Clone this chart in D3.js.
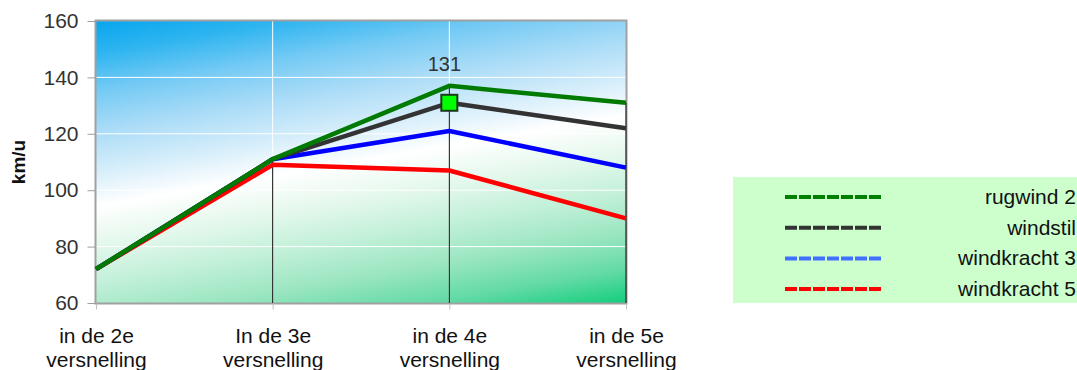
<!DOCTYPE html>
<html>
<head>
<meta charset="utf-8">
<script src="https://cdn.jsdelivr.net/npm/d3@7"></script>
<style>
  html, body { margin: 0; padding: 0; background: #ffffff; }
  svg { display: block; font-family: "Liberation Sans", Arial, sans-serif; }
</style>
</head>
<body>
<svg id="chart" width="1077" height="370"></svg>
<script>
// Topsnelheid per versnelling bij verschillende windomstandigheden
const categories = ["in de 2e\nversnelling", "In de 3e\nversnelling", "in de 4e\nversnelling", "in de 5e\nversnelling"];
const seriesNames = ["windkracht 5", "windkracht 3", "windstil", "rugwind 2"];
const rugwind2 = [72, 111, 137, 131];
const windstil = [72, 111, 131, 122];
const windkracht3 = [72, 111, 121, 108];
const windkracht5 = [72, 109, 107, 90];
const yTicks = [60, 80, 100, 120, 140, 160];
const highlight = { series: "windstil", index: 2, label: "131" };

const lineColors = { "rugwind 2": "#007a00", "windstil": "#333333", "windkracht 3": "#0000ff", "windkracht 5": "#ff0000" };
const legendColors = { "rugwind 2": "#008000", "windstil": "#333333", "windkracht 3": "#4070ff", "windkracht 5": "#ff0000" };
const legendOrder = ["rugwind 2", "windstil", "windkracht 3", "windkracht 5"];
const valuesBy = { "rugwind 2": rugwind2, "windstil": windstil, "windkracht 3": windkracht3, "windkracht 5": windkracht5 };

const FONT = "Liberation Sans, Arial, sans-serif";
const svg = d3.select("#chart");
const plot = { left: 96, right: 626, top: 21, bottom: 303 };
const pw = plot.right - plot.left, ph = plot.bottom - plot.top;

const x = d3.scalePoint().domain(d3.range(categories.length)).range([plot.left, plot.right]).padding(0);
const y = d3.scaleLinear().domain([60, 160]).range([plot.bottom, plot.top]);

// Sky-to-grass background: a tilted linear gradient across the plot area
const defs = svg.append("defs");
const lg = defs.append("linearGradient").attr("id", "bg")
  .attr("gradientUnits", "userSpaceOnUse")
  .attr("x1", plot.left + 233).attr("y1", plot.top - 47)
  .attr("x2", plot.left + 297).attr("y2", plot.top + 327);
[[0, "#00a2ee"], [0.1, "#2cb4f0"], [0.2, "#74caf4"], [0.3, "#a8dbf7"], [0.4, "#d2ecfa"],
 [0.5, "#ffffff"], [0.6, "#e4f8ec"], [0.7, "#c2f0d8"], [0.8, "#9ce6c2"], [0.9, "#62daa6"], [1, "#06cc76"]]
  .forEach(([o, c]) => lg.append("stop").attr("offset", o).attr("stop-color", c));

svg.append("rect").attr("x", plot.left).attr("y", plot.top).attr("width", pw).attr("height", ph)
  .attr("fill", "url(#bg)");

// Gridlines
svg.append("g").selectAll("line").data(yTicks.slice(1, -1)).join("line")
  .attr("x1", plot.left).attr("x2", plot.right)
  .attr("y1", d => y(d)).attr("y2", d => y(d))
  .attr("stroke", "#ffffff").attr("stroke-width", 1);
svg.append("g").selectAll("line").data(d3.range(1, categories.length - 1)).join("line")
  .attr("x1", d => x(d)).attr("x2", d => x(d))
  .attr("y1", plot.top).attr("y2", plot.bottom)
  .attr("stroke", "#ffffff").attr("stroke-width", 1);

// Frame
svg.append("rect").attr("x", plot.left - 0.5).attr("y", plot.top - 0.5)
  .attr("width", pw + 1).attr("height", ph + 1)
  .attr("fill", "none").attr("stroke", "#a0a0a0").attr("stroke-width", 2);

// Drop lines from the highest value at each category
const maxAt = d3.range(categories.length).map(i => d3.max(legendOrder, s => valuesBy[s][i]));
svg.append("g").selectAll("line").data(d3.range(1, categories.length)).join("line")
  .attr("x1", d => x(d)).attr("x2", d => x(d))
  .attr("y1", d => y(maxAt[d])).attr("y2", plot.bottom)
  .attr("stroke", "#111111").attr("stroke-width", 1);

// Y axis
const yAxis = d3.axisLeft(y).tickValues(yTicks).tickSize(8).tickPadding(9);
const gy = svg.append("g").attr("transform", `translate(${plot.left - 0.5},0)`).call(yAxis);
gy.select(".domain").remove();
gy.selectAll(".tick line").attr("stroke", "#a0a0a0");
gy.selectAll(".tick text").attr("font-size", 21).attr("fill", "#333333").attr("font-family", FONT);

// X axis
const xAxis = d3.axisBottom(x).tickSize(6).tickFormat(() => "");
const gx = svg.append("g").attr("transform", `translate(0,${plot.bottom + 0.5})`).call(xAxis);
gx.select(".domain").remove();
gx.selectAll(".tick line").attr("stroke", "#c0c0c0");
gx.selectAll(".tick").each(function(d) {
  const lines = categories[d].split("\n");
  const t = d3.select(this).append("text").attr("fill", "#111111").attr("font-size", 21)
    .attr("text-anchor", "middle").attr("font-family", FONT);
  lines.forEach((ln, i) => t.append("tspan").attr("x", 0).attr("y", 39 + i * 24).text(ln));
});

// Y axis title
svg.append("text").attr("transform", `translate(25,${(plot.top + plot.bottom) / 2}) rotate(-90)`)
  .attr("text-anchor", "middle").attr("font-size", 19).attr("font-weight", "bold")
  .attr("fill", "#111111").text("km/u");

// Series lines
const line = d3.line().x((d, i) => x(i)).y(d => y(d));
svg.append("g").selectAll("path").data(seriesNames).join("path")
  .attr("d", s => line(valuesBy[s]))
  .attr("fill", "none").attr("stroke", s => lineColors[s])
  .attr("stroke-width", 4.5).attr("stroke-linejoin", "round").attr("stroke-linecap", "butt");

// Highlighted point with value label
const hv = valuesBy[highlight.series][highlight.index];
svg.append("rect")
  .attr("x", x(highlight.index) - 8).attr("y", y(hv) - 8)
  .attr("width", 16).attr("height", 16)
  .attr("fill", "#00ff00").attr("stroke", "#1a3a1a").attr("stroke-width", 2);
svg.append("text").attr("x", x(highlight.index) - 5).attr("y", y(hv) - 32)
  .attr("text-anchor", "middle").attr("font-size", 20).attr("fill", "#333333")
  .text(highlight.label);

// Legend
const legend = svg.append("g");
legend.append("rect").attr("x", 733).attr("y", 177).attr("width", 344).attr("height", 126)
  .attr("fill", "#ccffcc");
const rows = legend.selectAll("g.row").data(legendOrder).join("g").attr("class", "row")
  .attr("transform", (d, i) => `translate(0,${197 + i * 30.7})`);
rows.append("line").attr("x1", 785).attr("x2", 882).attr("y1", 0).attr("y2", 0)
  .attr("stroke", s => legendColors[s]).attr("stroke-width", 4)
  .attr("stroke-dasharray", "12,2");
rows.append("text").attr("x", 1076).attr("y", 7).attr("text-anchor", "end")
  .attr("font-size", 21).attr("fill", "#111111").text(s => s);
</script>
</body>
</html>
